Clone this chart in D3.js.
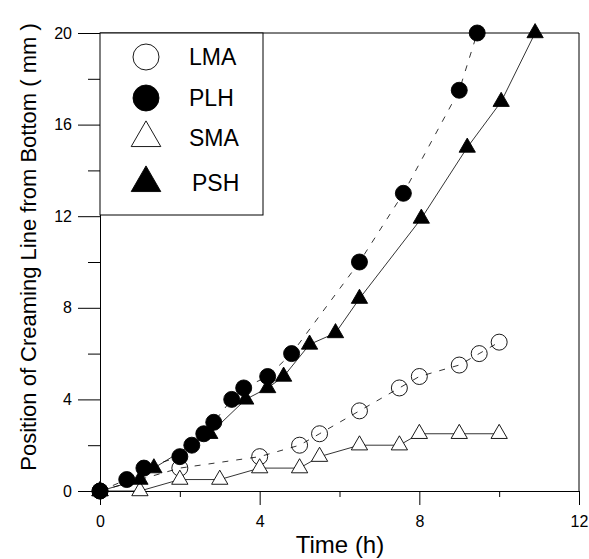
<!DOCTYPE html>
<html>
<head>
<meta charset="utf-8">
<script src="https://cdn.jsdelivr.net/npm/d3@7"></script>
<style>
  body { margin: 0; background: #fff; }
  text { font-family: "Liberation Sans", Arial, sans-serif; fill: #000; }
</style>
</head>
<body>
<div id="chart"></div>
<script>
// series values: [time (h), position (mm)]
const lmaData = [[0,0],[2,1],[4,1.5],[5,2],[5.5,2.5],[6.5,3.5],[7.5,4.5],[8,5],[9,5.5],[9.5,6],[10,6.5]];
const plhData = [[0,0],[0.67,0.5],[1.1,1],[2,1.5],[2.3,2],[2.6,2.5],[2.85,3],[3.3,4],[3.6,4.5],[4.2,5],[4.8,6],[6.5,10],[7.6,13],[9,17.5],[9.45,20]];
const smaData = [[0,0],[1,0],[2,0.5],[3,0.5],[4,1],[5,1],[5.5,1.5],[6.5,2],[7.5,2],[8,2.5],[9,2.5],[10,2.5]];
const pshData = [[0,0],[1,0.5],[1.35,1],[2.75,2.5],[3.65,4],[4.2,4.5],[4.6,5],[5.25,6.4],[5.9,6.9],[6.5,8.4],[8.05,11.9],[9.2,15],[10.05,17],[10.9,20]];

const xTicks = [0, 4, 8, 12];
const yTicks = [0, 4, 8, 12, 16, 20];
const seriesNames = ["LMA", "PLH", "SMA", "PSH"];

const W = 589, H = 559;
const margin = {top: 33, right: 10, bottom: 68, left: 100};
const width = 579 - margin.left;
const height = 491 - margin.top;

const svg = d3.select("#chart").append("svg")
    .attr("width", W)
    .attr("height", H);

const g = svg.append("g")
    .attr("transform", `translate(${margin.left},${margin.top})`);

const x = d3.scaleLinear().domain([0, 12]).range([0, width]);
const y = d3.scaleLinear().domain([0, 20]).range([height, 0]);

// frame (top + right)
g.append("path")
    .attr("d", `M0,0H${width}V${height}`)
    .attr("fill", "none")
    .attr("stroke", "#000")
    .attr("stroke-width", 1);

// x axis, major + minor ticks
g.append("g")
    .attr("transform", `translate(0,${height})`)
    .call(d3.axisBottom(x).tickValues([2, 6, 10]).tickSize(6).tickFormat(""))
    .call(a => a.select(".domain").remove());
g.append("g")
    .attr("transform", `translate(0,${height})`)
    .call(d3.axisBottom(x).tickValues(xTicks).tickSize(14).tickSizeOuter(0).tickPadding(11))
    .call(a => a.selectAll("text").style("font-size", "16px"));

// y axis, major + minor ticks
g.append("g")
    .call(d3.axisLeft(y).tickValues([2, 6, 10, 14, 18]).tickSize(12).tickFormat(""))
    .call(a => a.select(".domain").remove());
g.append("g")
    .call(d3.axisLeft(y).tickValues(yTicks).tickSize(22).tickSizeOuter(0).tickPadding(6))
    .call(a => a.selectAll("text").style("font-size", "16px"));

// axis titles
svg.append("text")
    .attr("x", 340)
    .attr("y", 553)
    .attr("text-anchor", "middle")
    .style("font-size", "24px")
    .text("Time (h)");

svg.append("text")
    .attr("transform", "translate(36,247) rotate(-90)")
    .attr("text-anchor", "middle")
    .style("font-size", "22px")
    .text("Position of Creaming Line from Bottom ( mm )");

// lines
const line = d3.line().x(d => x(d[0])).y(d => y(d[1]));

const series = [
    {name: "LMA", data: lmaData, dash: "6,8", shape: "circle", fill: "none"},
    {name: "SMA", data: smaData, dash: null, shape: "triangle", fill: "#fff"},
    {name: "PLH", data: plhData, dash: "6,8", shape: "circle", fill: "#000"},
    {name: "PSH", data: pshData, dash: null, shape: "triangle", fill: "#000"}
];

series.forEach(s => {
    g.append("path")
        .datum(s.data)
        .attr("d", line)
        .attr("fill", "none")
        .attr("stroke", "#000")
        .attr("stroke-width", 0.8)
        .attr("stroke-dasharray", s.dash);
});

const tri = d3.symbol().type(d3.symbolTriangle).size(115);

series.forEach(s => {
    const pts = g.append("g").selectAll(".pt")
        .data(s.data)
        .enter();
    if (s.shape === "circle") {
        pts.append("circle")
            .attr("cx", d => x(d[0]))
            .attr("cy", d => y(d[1]))
            .attr("r", 8)
            .attr("fill", s.fill)
            .attr("stroke", "#000")
            .attr("stroke-width", 0.9);
    } else {
        pts.append("path")
            .attr("d", tri)
            .attr("transform", d => `translate(${x(d[0])},${y(d[1])})`)
            .attr("fill", s.fill)
            .attr("stroke", "#000")
            .attr("stroke-width", 0.9);
    }
});

// legend
const legend = svg.append("g").attr("class", "legend");
legend.append("rect")
    .attr("x", 100)
    .attr("y", 33)
    .attr("width", 163)
    .attr("height", 182)
    .attr("fill", "#fff")
    .attr("stroke", "#000")
    .attr("stroke-width", 1);

const legendY = [57, 98, 138, 183];
const legendTri = d3.symbol().type(d3.symbolTriangle).size(380);
series.slice().sort((a, b) => seriesNames.indexOf(a.name) - seriesNames.indexOf(b.name))
    .forEach((s, i) => {
        if (s.shape === "circle") {
            legend.append("circle")
                .attr("cx", 146).attr("cy", legendY[i]).attr("r", 13)
                .attr("fill", s.fill === "none" ? "#fff" : s.fill)
                .attr("stroke", "#000").attr("stroke-width", 0.9);
        } else {
            legend.append("path")
                .attr("d", legendTri)
                .attr("transform", `translate(146,${legendY[i]})`)
                .attr("fill", s.fill)
                .attr("stroke", "#000").attr("stroke-width", 0.9);
        }
        legend.append("text")
            .attr("x", i === 3 ? 192 : 189)
            .attr("y", legendY[i] + 8)
            .style("font-size", "23px")
            .text(s.name);
    });
</script>
</body>
</html>
